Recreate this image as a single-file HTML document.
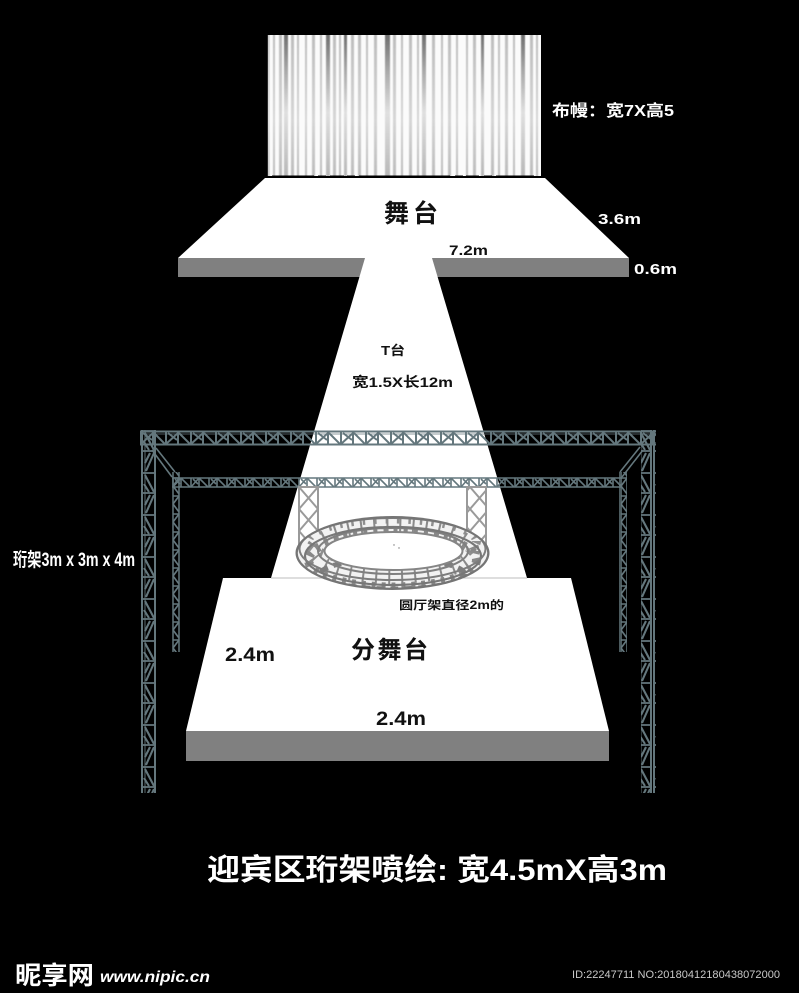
<!DOCTYPE html>
<html lang="zh">
<head>
<meta charset="utf-8">
<title>舞台布置图</title>
<style>
html,body{margin:0;padding:0;background:#000;width:799px;height:993px;overflow:hidden}
svg{display:block}
text{font-family:"Liberation Sans","Noto Sans CJK SC",sans-serif;font-weight:700}
</style>
</head>
<body>
<svg xmlns="http://www.w3.org/2000/svg" width="799" height="993" viewBox="0 0 799 993">
<defs>
  <linearGradient id="fold" x1="0" y1="0" x2="0" y2="1">
    <stop offset="0" stop-color="#6f6f6f"/>
    <stop offset=".25" stop-color="#a8a8a8"/>
    <stop offset=".55" stop-color="#e0e0e0"/>
    <stop offset="1" stop-color="#b8b8b8"/>
  </linearGradient>
  <linearGradient id="fold2" x1="0" y1="0" x2="0" y2="1">
    <stop offset="0" stop-color="#bdbdbd"/>
    <stop offset=".6" stop-color="#d6d6d6"/>
    <stop offset="1" stop-color="#bcbcbc"/>
  </linearGradient>
  <filter id="soft" x="-5%" y="-5%" width="110%" height="110%"><feGaussianBlur stdDeviation="0.4 0"/></filter>
  <filter id="soft2" x="-5%" y="-5%" width="110%" height="110%"><feGaussianBlur stdDeviation="0.35"/></filter>
  <pattern id="hTruss" width="25" height="16" patternUnits="userSpaceOnUse" x="140" y="430">
    <g stroke="#64777d" fill="none">
      <path d="M0 1.5H25M0 14.5H25" stroke-width="2"/>
      <path d="M0 4H25" stroke-width=".8"/>
      <path d="M1 2V14M13 2V14" stroke-width="2"/>
      <path d="M1 14L13 3M14 3L25 14M3 3L12 10" stroke-width="2"/>
    </g>
  </pattern>
  <pattern id="hTruss2" width="18" height="11" patternUnits="userSpaceOnUse" x="172" y="477">
    <g stroke="#64777d" fill="none">
      <path d="M0 1H18M0 10H18" stroke-width="1.5"/>
      <path d="M1 1V10M9 1V10" stroke-width="1.6"/>
      <path d="M1 10L9 1M9 1L18 10M3 2L8 7" stroke-width="1.6"/>
    </g>
  </pattern>
  <pattern id="vTruss" width="16" height="42" patternUnits="userSpaceOnUse" x="141" y="430">
    <g stroke="#64777d" fill="none">
      <path d="M1 0V42M14 0V42" stroke-width="2"/>
      <path d="M4 0V42" stroke-width=".9"/>
      <path d="M1 1H15M1 21H15" stroke-width="1.8"/>
      <path d="M4 3L13 20M3 12L8 20M13 23L5 41M9 23L4 33" stroke-width="2.1"/>
    </g>
  </pattern>
  <pattern id="vTruss2" width="8" height="18" patternUnits="userSpaceOnUse" x="172" y="477">
    <g stroke="#64777d" fill="none">
      <path d="M1 0V18M7 0V18" stroke-width="1.5"/>
      <path d="M1 1H7" stroke-width="1.5"/>
      <path d="M1 9L7 1M1 9L7 17" stroke-width="1.7"/>
    </g>
  </pattern>
  <pattern id="xTruss" width="19" height="22" patternUnits="userSpaceOnUse" x="299" y="487">
    <path d="M0 0L19 22M19 0L0 22" stroke="#9a9a9a" stroke-width="2" fill="none"/>
  </pattern>
  <mask id="ringMask">
    <rect x="280" y="500" width="230" height="100" fill="#000"/>
    <ellipse cx="392.5" cy="553" rx="97" ry="37" fill="#fff"/>
    <ellipse cx="393.5" cy="551" rx="69" ry="19" fill="#000"/>
  </mask>
</defs>

<rect width="799" height="993" fill="#000"/>

<!-- curtain -->
<rect x="268" y="35" width="273" height="141" fill="#fbfbfb"/>
<g filter="url(#soft)">
  <g fill="url(#fold2)">
    <rect x="268" y="35" width="1.5" height="141"/><rect x="273" y="35" width="2" height="141"/>
    <rect x="279" y="35" width="3" height="141"/><rect x="291" y="35" width="3" height="141"/>
    <rect x="297" y="35" width="2" height="141"/><rect x="305" y="35" width="2" height="141"/>
    <rect x="312" y="35" width="3" height="141"/><rect x="320" y="35" width="2" height="141"/>
    <rect x="333" y="35" width="3" height="141"/><rect x="339" y="35" width="2" height="141"/>
    <rect x="351" y="35" width="3" height="141"/><rect x="358" y="35" width="3" height="141"/>
    <rect x="366" y="35" width="2" height="141"/><rect x="374" y="35" width="3" height="141"/>
    <rect x="393" y="35" width="3" height="141"/><rect x="401" y="35" width="2" height="141"/>
    <rect x="409" y="35" width="3" height="141"/><rect x="417" y="35" width="2" height="141"/>
    <rect x="432" y="35" width="3" height="141"/><rect x="441" y="35" width="2" height="141"/>
    <rect x="448" y="35" width="3" height="141"/><rect x="456" y="35" width="2" height="141"/>
    <rect x="466" y="35" width="2" height="141"/><rect x="473" y="35" width="3" height="141"/>
    <rect x="491" y="35" width="3" height="141"/><rect x="498" y="35" width="2" height="141"/>
    <rect x="505" y="35" width="3" height="141"/><rect x="513" y="35" width="2" height="141"/>
    <rect x="530" y="35" width="3" height="141"/><rect x="536" y="35" width="2" height="141"/>
  </g>
  <g fill="url(#fold)">
    <rect x="284" y="35" width="4" height="141"/><rect x="326" y="35" width="4" height="141"/>
    <rect x="344" y="35" width="3" height="141"/><rect x="385" y="35" width="5" height="141"/>
    <rect x="422" y="35" width="4" height="141"/><rect x="481" y="35" width="3" height="141"/>
    <rect x="521" y="35" width="4" height="141"/>
  </g>
</g>
<g fill="#000">
  <rect x="272" y="175.5" width="42" height="2.5"/><rect x="318" y="175.5" width="8" height="2.5"/>
  <rect x="330" y="175.5" width="14" height="2.5"/><rect x="347" y="175.5" width="8" height="2.5"/>
  <rect x="359" y="175.5" width="91" height="2.5"/><rect x="455" y="175.5" width="8" height="2.5"/>
  <rect x="466" y="175.5" width="13" height="2.5"/><rect x="484" y="175.5" width="8" height="2.5"/>
  <rect x="496" y="175.5" width="38" height="2.5"/>
</g>

<!-- main stage -->
<path d="M265 178H545L629 258H178Z" fill="#fff"/>
<rect x="178" y="258" width="451" height="19" fill="#808080"/>

<!-- T stage -->
<path d="M365 258H432L527 578H271Z" fill="#fff"/>

<!-- sub stage -->
<path d="M223 578H571L609 731H186Z" fill="#fff"/>
<rect x="271" y="577.5" width="256" height="1" fill="#bdbdbd"/>
<rect x="186" y="731" width="423" height="30" fill="#808080"/>

<!-- back legs and beam -->
<rect x="172" y="477" width="450" height="11" fill="url(#hTruss2)"/>
<rect x="172" y="472" width="8" height="180" fill="url(#vTruss2)"/>
<rect x="619" y="472" width="8" height="180" fill="url(#vTruss2)"/>
<g stroke="#64777d" stroke-width="1.6" fill="none">
  <path d="M152 450L172 477M156 448L175 472"/>
  <path d="M622 477L643 450M620 472L640 447"/>
</g>

<!-- pillars -->
<g filter="url(#soft2)">
  <rect x="299" y="487" width="19" height="66" fill="url(#xTruss)" stroke="#9a9a9a" stroke-width="2"/>
  <rect x="467" y="487" width="19" height="66" fill="url(#xTruss)" stroke="#9a9a9a" stroke-width="2"/>
</g>

<!-- ring -->
<g filter="url(#soft2)" fill="none">
  <g mask="url(#ringMask)">
    <rect x="280" y="500" width="230" height="100" fill="#f2f2f2"/>
    <ellipse cx="392.5" cy="560" rx="84" ry="27" stroke="#888" stroke-width="9" stroke-dasharray="4 6"/>
    <ellipse cx="392.5" cy="541" rx="84" ry="22" stroke="#8f8f8f" stroke-width="9" stroke-dasharray="2.5 9"/>
    <ellipse cx="392.5" cy="551" rx="80" ry="26" stroke="#8a8a8a" stroke-width="14" stroke-dasharray="2 11"/>
    <ellipse cx="392.5" cy="574" rx="72" ry="15" stroke="#7d7d7d" stroke-width="5" stroke-dasharray="8 6"/>
    <ellipse cx="393" cy="551" rx="75" ry="23" stroke="#808080" stroke-width="2"/>
    <ellipse cx="393" cy="556" rx="88" ry="29" stroke="#777" stroke-width="2.2"/>
    <ellipse cx="392.5" cy="549" rx="93" ry="31" stroke="#7d7d7d" stroke-width="2"/>
    <ellipse cx="392.5" cy="553" rx="96" ry="36" stroke="#757575" stroke-width="2.6"/>
  </g>
  <ellipse cx="393.5" cy="551" rx="69" ry="19" stroke="#858585" stroke-width="2"/>
</g>
<circle cx="394" cy="545" r=".7" fill="#777"/><circle cx="399" cy="548" r=".7" fill="#777"/>

<!-- front truss -->
<rect x="141" y="430" width="15" height="363" fill="url(#vTruss)"/>
<rect x="641" y="430" width="15" height="363" fill="url(#vTruss)"/>
<rect x="140" y="430" width="516" height="16" fill="url(#hTruss)"/>

<!-- labels -->
<text x="552" y="116" font-size="16" fill="#fff" textLength="122" lengthAdjust="spacingAndGlyphs">布幔：宽7X高5</text>
<text x="384" y="222" font-size="25" fill="#111" textLength="54" lengthAdjust="spacing">舞台</text>
<text x="598" y="224" font-size="15" fill="#fff" textLength="43" lengthAdjust="spacingAndGlyphs">3.6m</text>
<text x="449" y="255" font-size="14" fill="#111" textLength="39" lengthAdjust="spacingAndGlyphs">7.2m</text>
<text x="634" y="274" font-size="15" fill="#fff" textLength="43" lengthAdjust="spacingAndGlyphs">0.6m</text>
<text x="381" y="355" font-size="13" fill="#111" textLength="24" lengthAdjust="spacingAndGlyphs">T台</text>
<text x="352" y="387" font-size="14" fill="#111" textLength="101" lengthAdjust="spacingAndGlyphs">宽1.5X长12m</text>
<text x="399" y="609" font-size="11.5" fill="#111" textLength="105" lengthAdjust="spacingAndGlyphs">圆厅架直径2m的</text>
<text x="225" y="661" font-size="19" fill="#111" textLength="50" lengthAdjust="spacingAndGlyphs">2.4m</text>
<text x="351" y="658" font-size="24" fill="#111" textLength="77" lengthAdjust="spacing">分舞台</text>
<text x="376" y="725" font-size="19" fill="#111" textLength="50" lengthAdjust="spacingAndGlyphs">2.4m</text>
<text x="13" y="566" font-size="19" fill="#fff" textLength="122" lengthAdjust="spacingAndGlyphs">珩架3m x 3m x 4m</text>
<text x="207" y="880" font-size="30" fill="#fff" textLength="460" lengthAdjust="spacingAndGlyphs">迎宾区珩架喷绘: 宽4.5mX高3m</text>

<text x="15" y="984" font-size="25" fill="#fff" textLength="79" lengthAdjust="spacingAndGlyphs">昵享网</text>
<text x="100" y="982" font-size="16" font-style="italic" fill="#fff" textLength="110" lengthAdjust="spacingAndGlyphs">www.nipic.cn</text>
<text x="572" y="978" font-size="11" fill="#c8c8c8" style="font-weight:400" textLength="208" lengthAdjust="spacingAndGlyphs">ID:22247711 NO:20180412180438072000</text>
</svg>
</body>
</html>
